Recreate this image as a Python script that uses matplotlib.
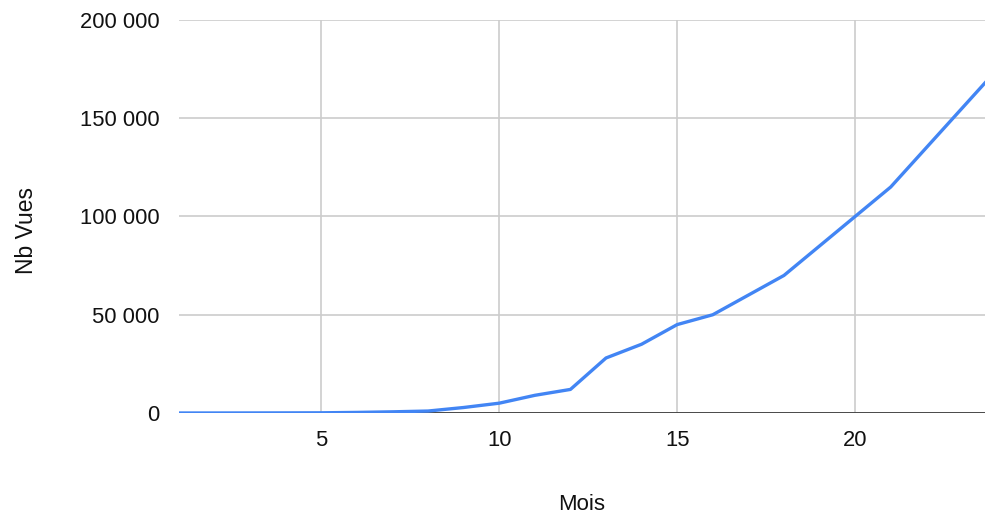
import matplotlib
matplotlib.use("Agg")
import matplotlib.pyplot as plt
from matplotlib.ticker import FuncFormatter

# données
mois = [1, 2, 3, 4, 5, 6, 7, 8, 9, 10, 11, 12,
        13, 14, 15, 16, 17, 18, 19, 20, 21, 22, 23, 24]
vues = [0, 10, 30, 60, 100, 300, 600, 1000, 2800, 5000, 9000, 12000,
        28000, 35000, 45000, 50000, 60000, 70000, 85000, 100000, 115000, 135000, 155000, 175000]

x_ticks = [5, 10, 15, 20]
y_ticks = [0, 50000, 100000, 150000, 200000]

plt.rcParams['font.family'] = ['Liberation Sans', 'DejaVu Sans']

fig = plt.figure(figsize=(9.85, 5.20), dpi=100)
ax = fig.add_axes([179 / 985, 1 - 413 / 520, (985 - 179) / 985, (413 - 20) / 520])

ax.plot(mois, vues, color='#4285F4', linewidth=2.4, solid_joinstyle='round', zorder=3, clip_on=True)
ax.axhline(0, color='#333333', linewidth=1.2, zorder=2)

ax.set_xlim(1, 23.65)
ax.set_ylim(0, 200000)
ax.set_xticks(x_ticks)
ax.set_yticks(y_ticks)
ax.yaxis.set_major_formatter(FuncFormatter(lambda v, p: f"{int(v):,}".replace(',', ' ')))

ax.grid(True, color='#cccccc', linewidth=1.2)
ax.set_axisbelow(True)
for s in ax.spines.values():
    s.set_visible(False)
ax.tick_params(length=0, labelsize=15.8, colors='#111111')
ax.tick_params(axis='y', pad=14)
ax.tick_params(axis='x', pad=12)

ax.set_xlabel('Mois', fontsize=16, color='#111111')
ax.set_ylabel('Nb Vues', fontsize=16.5, color='#111111')
ax.yaxis.set_label_coords(-141 / 806, 0.465)
ax.xaxis.set_label_coords(0.5, -0.205)

fig.savefig('out.png', dpi=100)
